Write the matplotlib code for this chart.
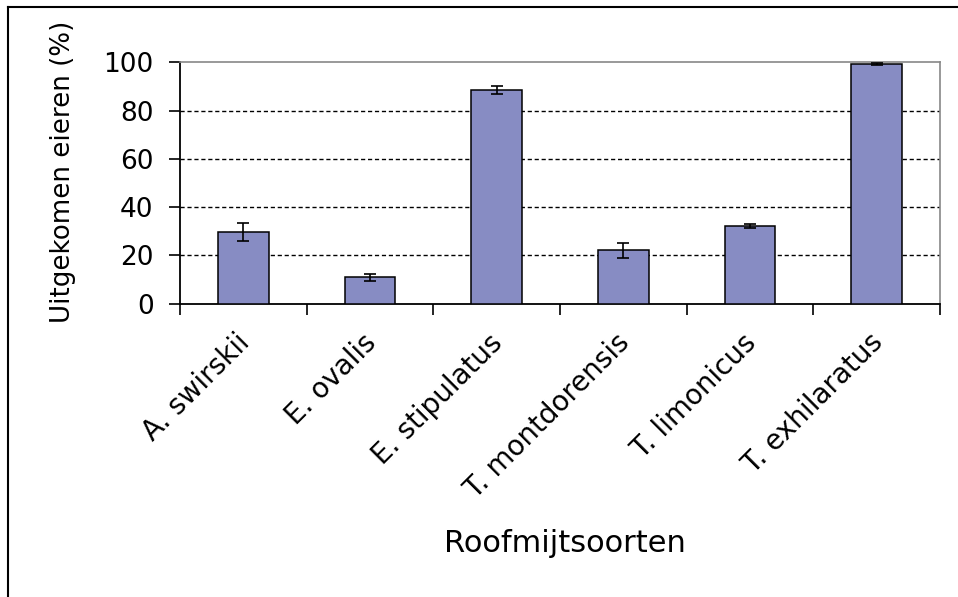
import matplotlib.pyplot as plt
import matplotlib.transforms as mtransforms
import numpy as np

species = ["A. swirskii", "E. ovalis", "E. stipulatus", "T. montdorensis",
           "T. limonicus", "T. exhilaratus"]
hatched = [29.7, 10.8, 88.5, 22.0, 32.2, 99.3]
errors = [3.8, 1.3, 1.7, 3.0, 0.7, 0.5]

plt.rcParams['font.family'] = ['DejaVu Sans']

fig = plt.figure(figsize=(9.58, 5.97), dpi=100)
ax = fig.add_axes([180 / 958, 1 - 303.5 / 597, 760 / 958, 241.2 / 597])

x = np.arange(len(species))
ax.bar(x, hatched, width=0.4, color='#878CC3', edgecolor='black', linewidth=1.1,
       zorder=3)
ax.errorbar(x, hatched, yerr=errors, fmt='none', ecolor='black', elinewidth=1.2,
            capsize=4.3, capthick=1.2, zorder=4)

ax.set_xlim(-0.5, len(species) - 0.5)
ax.set_ylim(0, 100)
ax.set_yticks(range(0, 101, 20))
for y in range(20, 100, 20):
    ax.axhline(y, color='black', linestyle=(0, (3, 2)), linewidth=1.0, zorder=1)

ax.set_xticks(np.arange(-0.5, len(species), 1.0))
ax.set_xticklabels([])
ax.set_xticks(x, minor=True)
ax.set_xticklabels(species, minor=True, rotation=45, ha='right', va='top',
                   rotation_mode='anchor', fontsize=20)
ax.tick_params(axis='x', which='minor', length=0, pad=0)
ax.tick_params(axis='x', which='major', direction='out', length=8, width=1.2)
ax.tick_params(axis='y', direction='out', length=8, width=1.2, labelsize=19, pad=11)

# nudge the slanted names so their ends sit just under each bar
shift = mtransforms.ScaledTranslation(-0.08, -0.25, fig.dpi_scale_trans)
for lbl in ax.get_xticklabels(minor=True):
    lbl.set_transform(lbl.get_transform() + shift)

for side in ['left', 'bottom']:
    ax.spines[side].set_linewidth(1.3)
for side in ['top', 'right']:
    ax.spines[side].set_color('#888888')
    ax.spines[side].set_linewidth(1.2)

fig.text(63 / 958, 1 - 172 / 597, "Uitgekomen eieren (%)", rotation=90,
         ha='center', va='center', fontsize=18.8)
fig.text(565 / 958, 1 - 543 / 597, "Roofmijtsoorten", ha='center', va='center',
         fontsize=22)

# outer frame, only top and left edges fall inside the image
fig.add_artist(plt.Line2D([8 / 958, 8 / 958], [0, 1 - 7 / 597], color='black',
                          linewidth=1.5, transform=fig.transFigure))
fig.add_artist(plt.Line2D([8 / 958, 1], [1 - 7 / 597, 1 - 7 / 597], color='black',
                          linewidth=1.5, transform=fig.transFigure))

fig.savefig("out.png", dpi=100)
